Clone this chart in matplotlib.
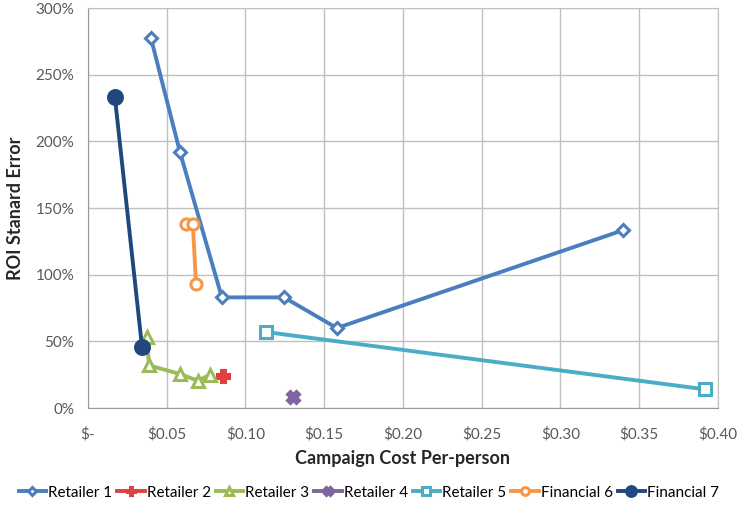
import matplotlib
matplotlib.use("Agg")
import matplotlib.pyplot as plt
from matplotlib.ticker import FuncFormatter

plt.rcParams["font.family"] = ["Lato", "DejaVu Sans"]

# kategorie a hodnoty (náklad na osobu, směrodatná chyba ROI)
series_names = ["Retailer 1", "Retailer 2", "Retailer 3", "Retailer 4",
                "Retailer 5", "Financial 6", "Financial 7"]
retailer1_x = [0.040, 0.0584, 0.085, 0.1245, 0.158, 0.340]
retailer1_y = [2.775, 1.92, 0.83, 0.83, 0.60, 1.335]
retailer2_x = [0.0857]
retailer2_y = [0.24]
retailer3_x = [0.0375, 0.0387, 0.0584, 0.0698, 0.0775]
retailer3_y = [0.53, 0.32, 0.255, 0.205, 0.25]
retailer4_x = [0.1300]
retailer4_y = [0.085]
retailer5_x = [0.113, 0.392]
retailer5_y = [0.57, 0.14]
financial6_x = [0.0622, 0.0666, 0.0686]
financial6_y = [1.38, 1.38, 0.93]
financial7_x = [0.0171, 0.0343]
financial7_y = [2.33, 0.46]

xs = [retailer1_x, retailer2_x, retailer3_x, retailer4_x, retailer5_x, financial6_x, financial7_x]
ys = [retailer1_y, retailer2_y, retailer3_y, retailer4_y, retailer5_y, financial6_y, financial7_y]
colors = ["#4a7ebf", "#e0403f", "#9bbb59", "#8064a2", "#4bacc6", "#f79646", "#1f497d"]
markers = ["D", "P", "^", "X", "s", "o", "o"]
filled = [False, True, False, True, False, False, True]
msizes = [6, 8, 8, 9, 8, 8, 10]

fig = plt.figure(figsize=(7.38, 5.12), dpi=100)
ax = fig.add_axes([0.1192, 0.2031, 0.8537, 0.781])

for name, x, y, c, m, f, ms in zip(series_names, xs, ys, colors, markers, filled, msizes):
    ax.plot(x, y, color=c, lw=2.8, marker=m, markersize=ms,
            markerfacecolor=c if f else "white", markeredgecolor=c,
            markeredgewidth=2.2, label=name, zorder=3)

ax.set_xlim(0, 0.40)
ax.set_ylim(0, 3.0)
ax.set_xticks([i * 0.05 for i in range(9)])
ax.set_yticks([i * 0.5 for i in range(7)])
ax.xaxis.set_major_formatter(FuncFormatter(lambda v, p: "$-" if v == 0 else f"${v:.2f}"))
ax.yaxis.set_major_formatter(FuncFormatter(lambda v, p: f"{v * 100:.0f}%"))
ax.tick_params(labelsize=11, colors="#595959", length=0)
ax.tick_params(axis="x", pad=14)
ax.tick_params(axis="y", pad=10)
ax.grid(True, color="#c0c0c0", lw=1)
ax.set_axisbelow(True)
for s in ax.spines.values():
    s.set_color("#c0c0c0")
ax.spines["left"].set_color("#999999")
ax.spines["bottom"].set_color("#999999")

ax.set_xlabel("Campaign Cost Per-person", fontsize=13, fontweight="bold", color="#262626", labelpad=6)
ax.set_ylabel("ROI Stanard Error", fontsize=13, fontweight="bold", color="#262626", labelpad=8)

fig.legend(loc="center", bbox_to_anchor=(0.5, 0.038), ncol=7, frameon=False,
           fontsize=11, handlelength=1.8, handletextpad=0.15, columnspacing=0.3,
           markerscale=0.7)

plt.savefig("out.png", dpi=100)
